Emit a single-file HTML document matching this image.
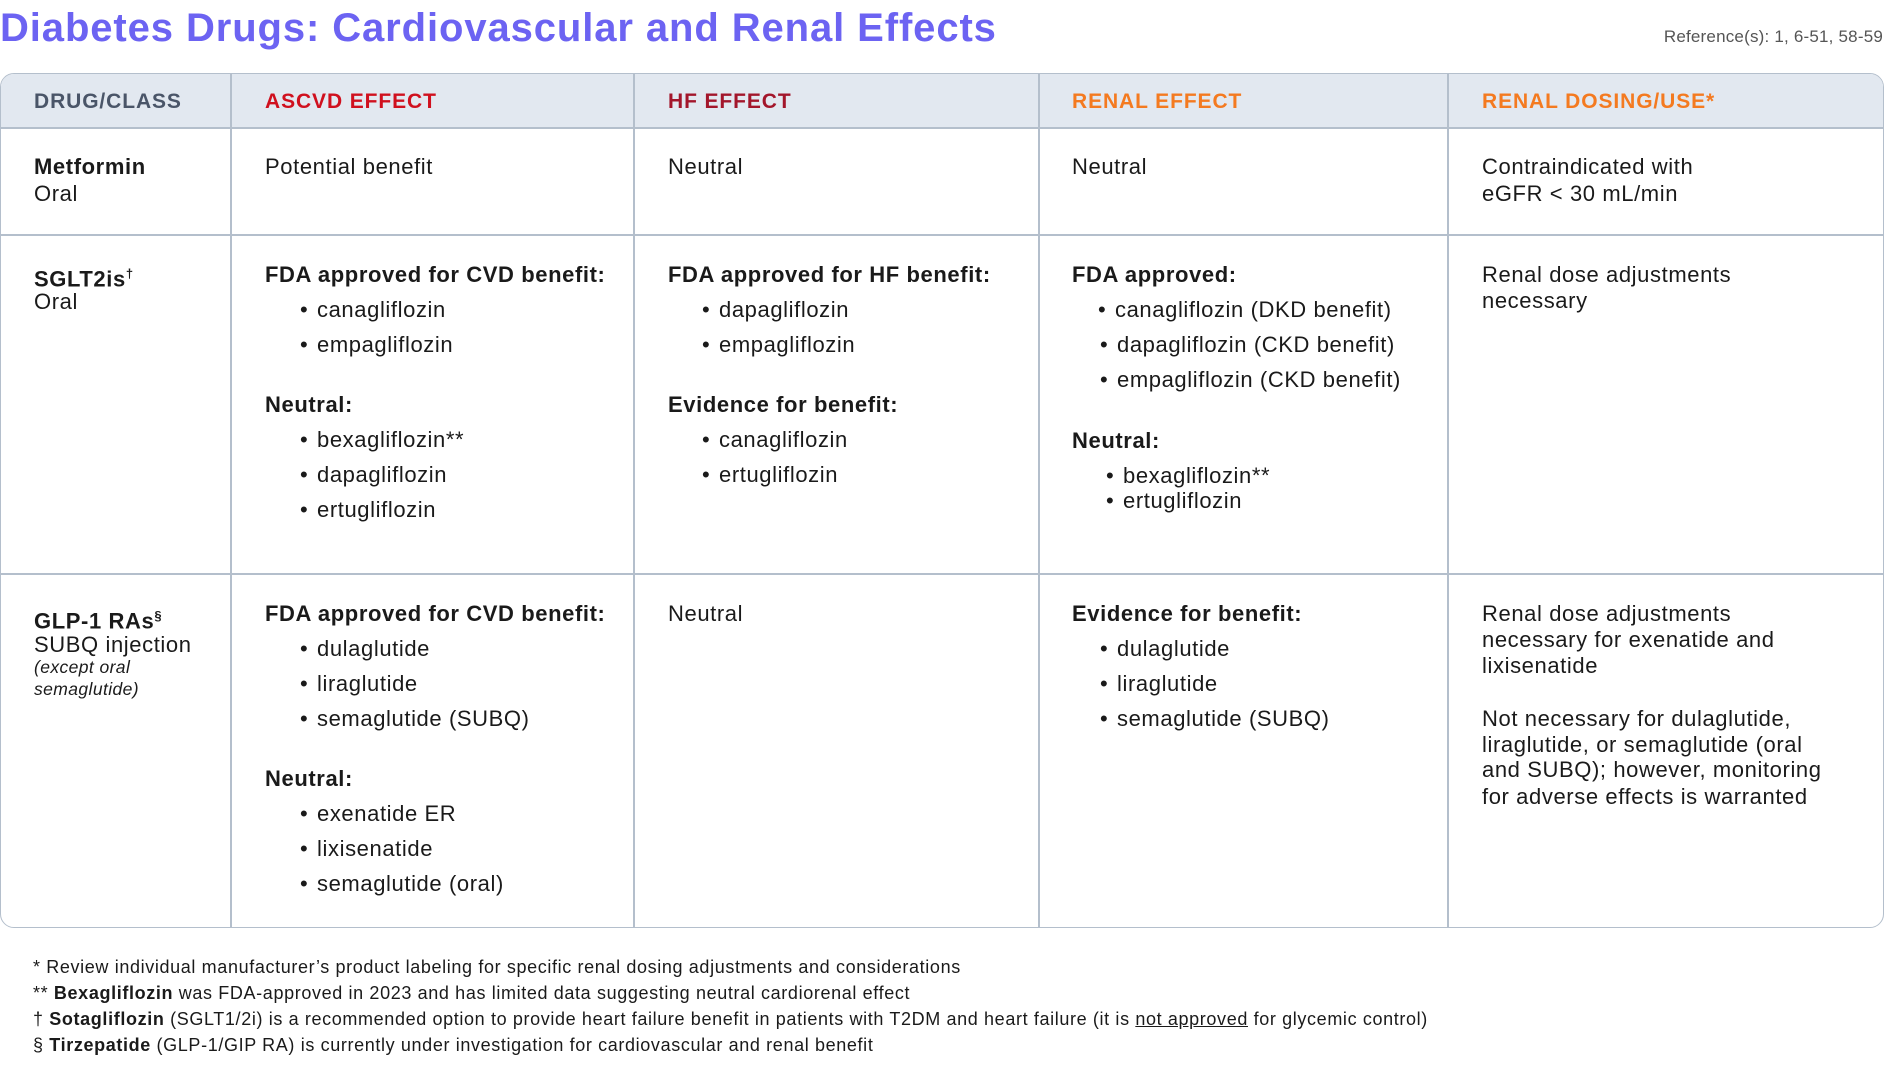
<!DOCTYPE html>
<html><head><meta charset="utf-8"><style>
*{margin:0;padding:0;box-sizing:border-box}
body{width:1885px;height:1070px;background:#fff;position:relative;font-family:"Liberation Sans",sans-serif;color:#1a1a1a;overflow:hidden}
.t{position:absolute;white-space:nowrap;font-size:22px;line-height:26px;letter-spacing:0.6px}
.b{font-weight:bold}
.h{font-weight:bold;font-size:21px;letter-spacing:0.9px}
.bul::before{content:"•";position:absolute;left:-17px}
.v{position:absolute;top:73px;width:1.5px;height:855px;background:#b4bfcc}
.hr{position:absolute;left:0;width:1884px;height:1.5px;background:#b4bfcc}
.f{position:absolute;left:33px;font-size:18px;line-height:22px;white-space:nowrap;color:#1a1a1a;letter-spacing:0.63px}
</style></head><body>
<div class="t b" style="left:0;top:5px;font-size:40px;line-height:46px;color:#6c63f2;letter-spacing:0.9px">Diabetes Drugs: Cardiovascular and Renal Effects</div>
<div class="t" style="right:2px;top:24px;font-size:17px;color:#555;letter-spacing:0.2px">Reference(s): 1, 6-51, 58-59</div>
<div style="position:absolute;left:0;top:73px;width:1884px;height:855px;border:1.5px solid #b4bfcc;border-radius:14px"></div>
<div style="position:absolute;left:1px;top:74px;width:1882px;height:53px;background:#e2e8f0;border-radius:13px 13px 0 0"></div>
<div class="hr" style="top:127px"></div>
<div class="hr" style="top:234px"></div>
<div class="hr" style="top:573px"></div>
<div class="v" style="left:230px"></div>
<div class="v" style="left:633px"></div>
<div class="v" style="left:1038px"></div>
<div class="v" style="left:1447px"></div>
<div class="t h" style="left:34px;top:89px;color:#4a5568">DRUG/CLASS</div>
<div class="t h" style="left:265px;top:89px;color:#d0101e">ASCVD EFFECT</div>
<div class="t h" style="left:668px;top:89px;color:#a3162b">HF EFFECT</div>
<div class="t h" style="left:1072px;top:89px;color:#f47a20">RENAL EFFECT</div>
<div class="t h" style="left:1482px;top:89px;color:#f47a20">RENAL DOSING/USE*</div>

<div class="t b" style="left:34px;top:154px">Metformin</div>
<div class="t" style="left:34px;top:181px">Oral</div>
<div class="t" style="left:265px;top:154px">Potential benefit</div>
<div class="t" style="left:668px;top:154px">Neutral</div>
<div class="t" style="left:1072px;top:154px">Neutral</div>
<div class="t" style="left:1482px;top:154px">Contraindicated with</div>
<div class="t" style="left:1482px;top:181px">eGFR &lt; 30 mL/min</div>

<div class="t b" style="left:34px;top:261px">SGLT2is<sup style="font-size:13px">†</sup></div>
<div class="t" style="left:34px;top:289px">Oral</div>
<div class="t b" style="left:265px;top:262px">FDA approved for CVD benefit:</div>
<div class="t bul" style="left:317px;top:297px">canagliflozin</div>
<div class="t bul" style="left:317px;top:332px">empagliflozin</div>
<div class="t b" style="left:265px;top:392px">Neutral:</div>
<div class="t bul" style="left:317px;top:427px">bexagliflozin**</div>
<div class="t bul" style="left:317px;top:462px">dapagliflozin</div>
<div class="t bul" style="left:317px;top:497px">ertugliflozin</div>
<div class="t b" style="left:668px;top:262px">FDA approved for HF benefit:</div>
<div class="t bul" style="left:719px;top:297px">dapagliflozin</div>
<div class="t bul" style="left:719px;top:332px">empagliflozin</div>
<div class="t b" style="left:668px;top:392px">Evidence for benefit:</div>
<div class="t bul" style="left:719px;top:427px">canagliflozin</div>
<div class="t bul" style="left:719px;top:462px">ertugliflozin</div>
<div class="t b" style="left:1072px;top:262px">FDA approved:</div>
<div class="t bul" style="left:1115px;top:297px">canagliflozin (DKD benefit)</div>
<div class="t bul" style="left:1117px;top:332px">dapagliflozin (CKD benefit)</div>
<div class="t bul" style="left:1117px;top:367px">empagliflozin (CKD benefit)</div>
<div class="t b" style="left:1072px;top:428px">Neutral:</div>
<div class="t bul" style="left:1123px;top:463px">bexagliflozin**</div>
<div class="t bul" style="left:1123px;top:488px">ertugliflozin</div>
<div class="t" style="left:1482px;top:262px">Renal dose adjustments</div>
<div class="t" style="left:1482px;top:288px">necessary</div>

<div class="t b" style="left:34px;top:603px">GLP-1 RAs<sup style="font-size:13px">§</sup></div>
<div class="t" style="left:34px;top:632px">SUBQ injection</div>
<div class="t" style="left:34px;top:656px;font-size:17.5px;font-style:italic;line-height:22px;letter-spacing:0.4px">(except oral</div>
<div class="t" style="left:34px;top:678px;font-size:17.5px;font-style:italic;line-height:22px;letter-spacing:0.4px">semaglutide)</div>
<div class="t b" style="left:265px;top:601px">FDA approved for CVD benefit:</div>
<div class="t bul" style="left:317px;top:636px">dulaglutide</div>
<div class="t bul" style="left:317px;top:671px">liraglutide</div>
<div class="t bul" style="left:317px;top:706px">semaglutide (SUBQ)</div>
<div class="t b" style="left:265px;top:766px">Neutral:</div>
<div class="t bul" style="left:317px;top:801px">exenatide ER</div>
<div class="t bul" style="left:317px;top:836px">lixisenatide</div>
<div class="t bul" style="left:317px;top:871px">semaglutide (oral)</div>
<div class="t" style="left:668px;top:601px">Neutral</div>
<div class="t b" style="left:1072px;top:601px">Evidence for benefit:</div>
<div class="t bul" style="left:1117px;top:636px">dulaglutide</div>
<div class="t bul" style="left:1117px;top:671px">liraglutide</div>
<div class="t bul" style="left:1117px;top:706px">semaglutide (SUBQ)</div>
<div class="t" style="left:1482px;top:601px">Renal dose adjustments</div>
<div class="t" style="left:1482px;top:627px">necessary for exenatide and</div>
<div class="t" style="left:1482px;top:653px">lixisenatide</div>
<div class="t" style="left:1482px;top:706px">Not necessary for dulaglutide,</div>
<div class="t" style="left:1482px;top:732px">liraglutide, or semaglutide (oral</div>
<div class="t" style="left:1482px;top:757px">and SUBQ); however, monitoring</div>
<div class="t" style="left:1482px;top:784px">for adverse effects is warranted</div>

<div class="f" style="top:956px">* Review individual manufacturer’s product labeling for specific renal dosing adjustments and considerations</div>
<div class="f" style="top:982px">** <b>Bexagliflozin</b> was FDA-approved in 2023 and has limited data suggesting neutral cardiorenal effect</div>
<div class="f" style="top:1008px">† <b>Sotagliflozin</b> (SGLT1/2i) is a recommended option to provide heart failure benefit in patients with T2DM and heart failure (it is <u>not approved</u> for glycemic control)</div>
<div class="f" style="top:1034px">§ <b>Tirzepatide</b> (GLP-1/GIP RA) is currently under investigation for cardiovascular and renal benefit</div>
</body></html>
